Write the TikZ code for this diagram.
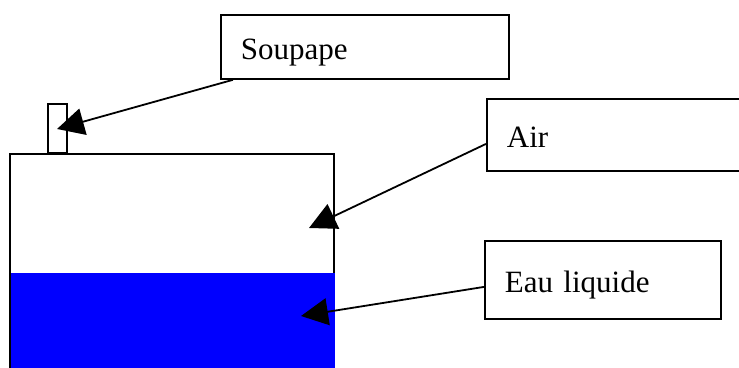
\documentclass[tikz,border=0pt]{standalone}
\usepackage{fontspec}
\setmainfont{Liberation Serif}
\usetikzlibrary{arrows.meta,positioning}

\begin{document}
\begin{tikzpicture}[x=1pt,y=-1pt,line width=1.8pt,
    etiquette/.style={draw, rectangle, anchor=north west, align=left,
      inner xsep=20pt, inner ysep=0pt, text height=26pt, text depth=0pt,
      font=\fontsize{31}{37}\selectfont},
    fleche/.style={-{Triangle[length=27pt,width=27pt]}}]
    \clip (0,0) rectangle (739,367);

    % eau dans le reservoir
    \fill[blue] (11,273) rectangle (335,380);
    % reservoir et soupape
    \draw (10,380) -- (10,154) -- (334,154) -- (334,273);
    \draw (48,104) rectangle (67,153);

    % pointes des fleches
    \coordinate (pointeSoupape) at (57,129);
    \coordinate (pointeAir) at (309,228);
    \coordinate (pointeEau) at (301,316);

    % etiquettes
    \node[etiquette, text width=248pt, minimum height=64pt] (soupape) at (220,14) {Soupape};
    \node[etiquette, text width=234pt, minimum height=72pt] (air) at (486,98) {Air};
    \node[etiquette, text width=196pt, minimum height=78pt] (eau) at (484,240) {Eau liquide};

    % fleches
    \draw[fleche] ([xshift=13pt]soupape.south west) -- (pointeSoupape);
    \draw[fleche] ([yshift=-9pt]air.west) -- (pointeAir);
    \draw[fleche] ([yshift=-7pt]eau.west) -- (pointeEau);
\end{tikzpicture}
\end{document}
